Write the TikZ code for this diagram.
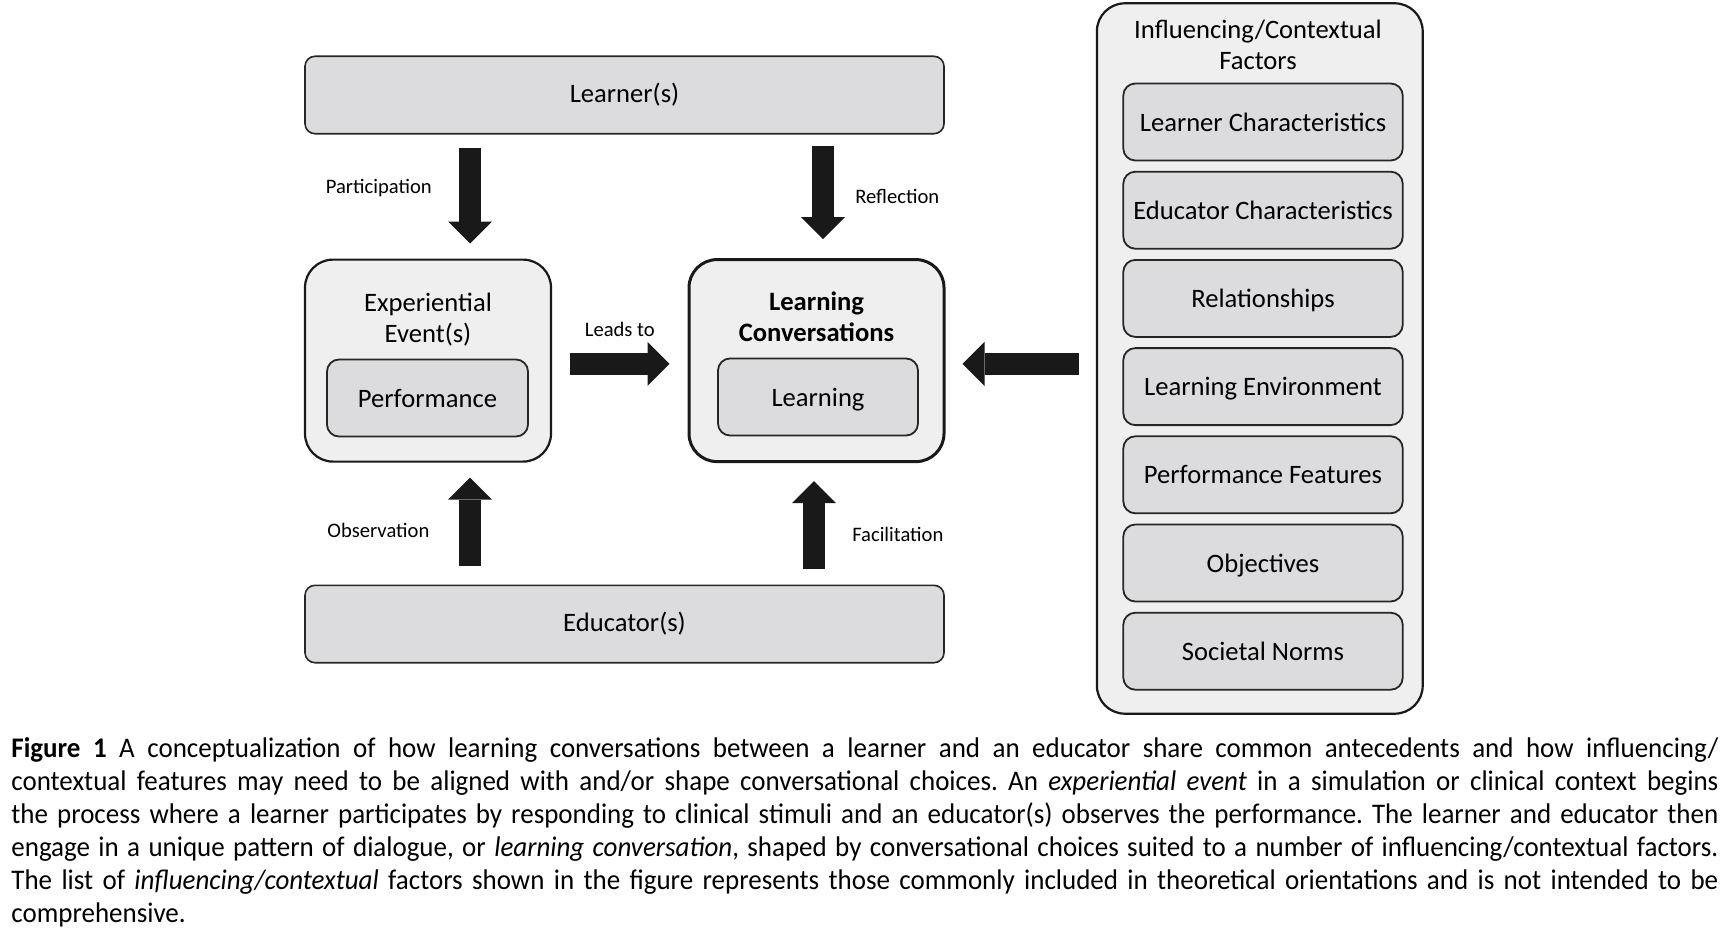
\documentclass[tikz,border=0pt]{standalone}
\usepackage{fontspec}
\setmainfont{Carlito}
\newfontfamily\capfont[FakeStretch=0.95]{Carlito}
\usetikzlibrary{arrows.meta,positioning}
\definecolor{boxgray}{HTML}{DCDCDE}
\definecolor{panelgray}{HTML}{EFEFEF}

\begin{document}
\begin{tikzpicture}[
  x=0.5pt, y=-0.5pt,
  font=\fontsize{13.3}{15.5}\selectfont,
  node distance=4.7pt,
  actor/.style={draw=black!85, line width=0.8pt, rounded corners=5pt, fill=boxgray, minimum width=319.5pt, minimum height=38.7pt},
  panel/.style={draw=black!90, line width=1.1pt, rounded corners=14pt, fill=panelgray},
  inner/.style={draw=black!85, line width=0.9pt, rounded corners=6pt, fill=boxgray, minimum height=38.5pt, text depth=0pt},
  factor/.style={inner, minimum width=139.7pt},
  lbl/.style={font=\fontsize{10.3}{12}\selectfont, outer sep=0pt},
  blk/.style={line width=11pt, draw=black!90, -{Triangle[length=11pt,width=22pt,line width=0pt]}}
]
\useasboundingbox (0,0) rectangle (1732,931);

% learner / educator
\node[actor] (learner) at (624.5,95) {Learner(s)};
\node[actor] (educator) at (624.5,624) {Educator(s)};

% experiential event
\node[panel, minimum width=123pt, minimum height=101pt] (exp) at (428,360.6) {};
\node[align=center] (exptitle) at (428,320) {Experiential\\Event(s)};
\node[inner, minimum width=100.5pt] (perf) at (427.5,398) {Performance};

% learning conversations
\node[panel, line width=1.5pt, minimum width=127.5pt, minimum height=101pt] (lc) at (816.5,360.6) {};
\node[align=center, font=\fontsize{13.3}{15.5}\selectfont\bfseries] (lctitle) at (816.5,317) {Learning\\Conversations};
\node[inner, minimum width=100pt] (learn) at (818,397) {Learning};

% influencing / contextual factors
\node[panel, minimum width=162.9pt, minimum height=355.2pt] (factors) at (1259.8,358.5) {};
\node[align=center] (ftitle) at (1258,44.5) {Influencing/Contextual\\Factors};
\node[factor] (f1) at (1263,122) {Learner Characteristics};
\node[factor, below=of f1] (f2) {Educator Characteristics};
\node[factor, below=of f2] (f3) {Relationships};
\node[factor, below=of f3] (f4) {Learning Environment};
\node[factor, below=of f4] (f5) {Performance Features};
\node[factor, below=of f5] (f6) {Objectives};
\node[factor, below=of f6] (f7) {Societal Norms};

\coordinate (px) at (470,0);
\coordinate (rx) at (823,0);
\coordinate (fx) at (814,0);

\draw[blk, shorten <=6.5pt, shorten >=7.5pt] (learner.south -| px) -- (exp.north -| px)
  node[lbl, pos=0.43, left=15.8pt]{Participation};
\draw[blk, shorten <=5.5pt, shorten >=9.5pt] (learner.south -| rx) -- (lc.north -| rx)
  node[lbl, pos=0.5, right=12.8pt]{Reflection};
\draw[blk, shorten <=9.5pt, shorten >=7.5pt] (educator.north -| px) -- (exp.south -| px)
  node[lbl, pos=0.44, left=17pt]{Observation};
\draw[blk, shorten <=8pt, shorten >=9pt] (educator.north -| fx) -- (lc.south -| fx)
  node[lbl, pos=0.41, right=15.8pt]{Facilitation};
\draw[blk, shorten <=9pt, shorten >=9pt] ([yshift=-1.6pt]exp.east) -- ([yshift=-1.6pt]lc.west)
  node[lbl, midway, above=10pt]{Leads to};
\draw[blk, shorten <=8.5pt, shorten >=8.5pt] ([yshift=-1.6pt]factors.west |- lc.east) -- ([yshift=-1.6pt]lc.east);

% caption
\node[anchor=north west, inner sep=0pt, text width=853.5pt, align=justify,
  font={\capfont\fontsize{14.2}{16.5}\selectfont}] (caption) at (11,737)
  {\frenchspacing\tolerance=10000\hyphenpenalty=10000
  \textbf{Figure 1} A conceptualization of how learning conversations between a learner and an educator share common antecedents and how influencing/\linebreak
  contextual features may need to be aligned with and/or shape conversational choices. An \textit{experiential event} in a simulation or clinical context begins\linebreak
  the process where a learner participates by responding to clinical stimuli and an educator(s) observes the performance. The learner and educator then\linebreak
  engage in a unique pattern of dialogue, or \textit{learning conversation}, shaped by conversational choices suited to a number of influencing/contextual factors.\linebreak
  The list of \textit{influencing/contextual} factors shown in the figure represents those commonly included in theoretical orientations and is not intended to be\linebreak
  comprehensive.};
\end{tikzpicture}
\end{document}
